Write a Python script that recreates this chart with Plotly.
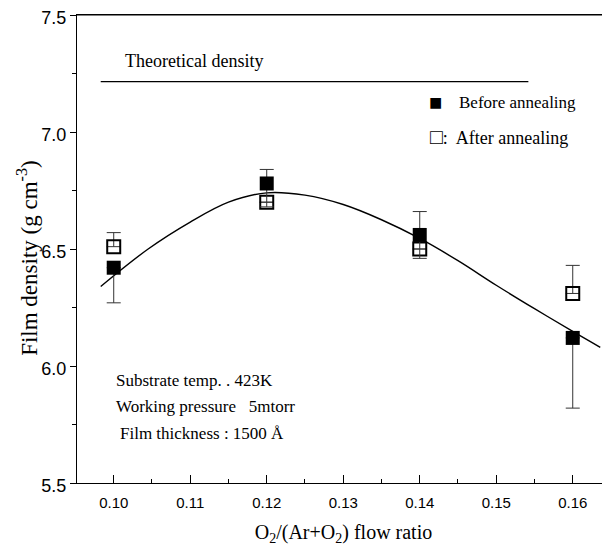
import plotly.graph_objects as go

flow_ratio = [0.10, 0.12, 0.14, 0.16]
before_density = [6.42, 6.78, 6.56, 6.12]
before_err_plus = [0.0, 0.06, 0.10, 0.0]
before_err_minus = [0.15, 0.10, 0.10, 0.30]
after_density = [6.51, 6.70, 6.50, 6.31]
after_err_plus = [0.06, 0.0, 0.0, 0.12]
after_err_minus = [0.0, 0.0, 0.0, 0.0]

fit_x = [0.0983, 0.1045, 0.110, 0.115, 0.120, 0.125, 0.130, 0.135, 0.140, 0.145, 0.150, 0.155, 0.160, 0.1636]
fit_y = [6.34, 6.50, 6.615, 6.70, 6.74, 6.73, 6.69, 6.625, 6.545, 6.45, 6.345, 6.245, 6.148, 6.08]

theory_x = [0.0983, 0.1542]
theory_y = [7.215, 7.215]

x_ticks = [0.10, 0.11, 0.12, 0.13, 0.14, 0.15, 0.16]
x_tick_text = ["0.10", "0.11", "0.12", "0.13", "0.14", "0.15", "0.16"]
y_ticks = [5.5, 6.0, 6.5, 7.0, 7.5]
y_tick_text = ["5.5", "6.0", "6.5", "7.0", "7.5"]

serif = "Liberation Serif, Times New Roman, serif"
sans = "Liberation Sans, Arial, sans-serif"

fig = go.Figure()

fig.add_trace(go.Scatter(x=theory_x, y=theory_y, mode="lines",
                         line=dict(color="black", width=1.3), showlegend=False))
fig.add_trace(go.Scatter(x=fit_x, y=fit_y, mode="lines", line_shape="spline",
                         line=dict(color="black", width=1.4, smoothing=1.0), showlegend=False))
fig.add_trace(go.Scatter(
    x=flow_ratio, y=after_density, mode="markers",
    marker=dict(symbol="square-open", size=13, color="black", line=dict(width=2)),
    error_y=dict(type="data", symmetric=False, array=after_err_plus,
                 arrayminus=after_err_minus, color="#333", thickness=1, width=7),
    showlegend=False))
fig.add_trace(go.Scatter(
    x=flow_ratio, y=before_density, mode="markers",
    marker=dict(symbol="square", size=14, color="black"),
    error_y=dict(type="data", symmetric=False, array=before_err_plus,
                 arrayminus=before_err_minus, color="#333", thickness=1, width=7),
    showlegend=False))

def note(x, y, text, size, xanchor="left"):
    return dict(x=x, y=y, xref="x", yref="y", text=text, showarrow=False,
                xanchor=xanchor, font=dict(family=serif, size=size, color="black"))

annotations = [
    note(0.1012, 7.303, "Theoretical density", 18),
    note(0.14095, 7.124, "<span style='font-size:22px'>■</span>", 17),
    note(0.14487, 7.124, "Before annealing", 17),
    note(0.14108, 6.979, "<span style='font-size:21px'>□</span>:&nbsp; After annealing", 18),
    note(0.1000, 5.94, "Substrate temp. . 423K", 17),
    note(0.1000, 5.825, "Working pressure   5mtorr", 17),
    note(0.1006, 5.71, "Film thickness : 1500 Å", 17),
    dict(x=-0.092, y=0.481, xref="paper", yref="paper", textangle=-90,
         text="Film density (g cm<sup>-3</sup>)", showarrow=False,
         xanchor="center", yanchor="middle",
         font=dict(family=serif, size=23, color="black")),
]

fig.update_layout(
    width=602, height=542,
    margin=dict(l=69, r=0, t=7, b=67),
    paper_bgcolor="white", plot_bgcolor="white",
    annotations=annotations,
    shapes=[dict(type="line", xref="paper", yref="paper", x0=0, x1=1, y0=1, y1=1,
                 line=dict(color="black", width=1.2))],
    xaxis=dict(range=[0.0952, 0.16487], tickvals=x_ticks, ticktext=x_tick_text,
               automargin=False, ticklabelstandoff=6,
               ticks="inside", ticklen=8, tickwidth=1, tickcolor="black",
               minor=dict(ticks="inside", ticklen=4, dtick=0.005, tickcolor="black"),
               showline=True, linecolor="black", linewidth=1.2, mirror=True,
               showgrid=False, zeroline=False,
               tickfont=dict(family=sans, size=15, color="black"),
               title=dict(text="O<sub>2</sub>/(Ar+O<sub>2</sub>) flow ratio", standoff=14,
                          font=dict(family=serif, size=20, color="black"))),
    yaxis=dict(range=[5.5, 7.5], tickvals=y_ticks, ticktext=y_tick_text,
               automargin=False, ticklabeloverflow="allow", ticklabelshift=3,
               ticks="outside", ticklen=6, tickwidth=1, tickcolor="black",
               minor=dict(ticks="outside", ticklen=4, dtick=0.25, tickcolor="black"),
               showline=True, linecolor="black", linewidth=1.2, mirror=False,
               showgrid=False, zeroline=False,
               tickfont=dict(family=sans, size=18, color="black")),
)

fig.write_html("out.html")
